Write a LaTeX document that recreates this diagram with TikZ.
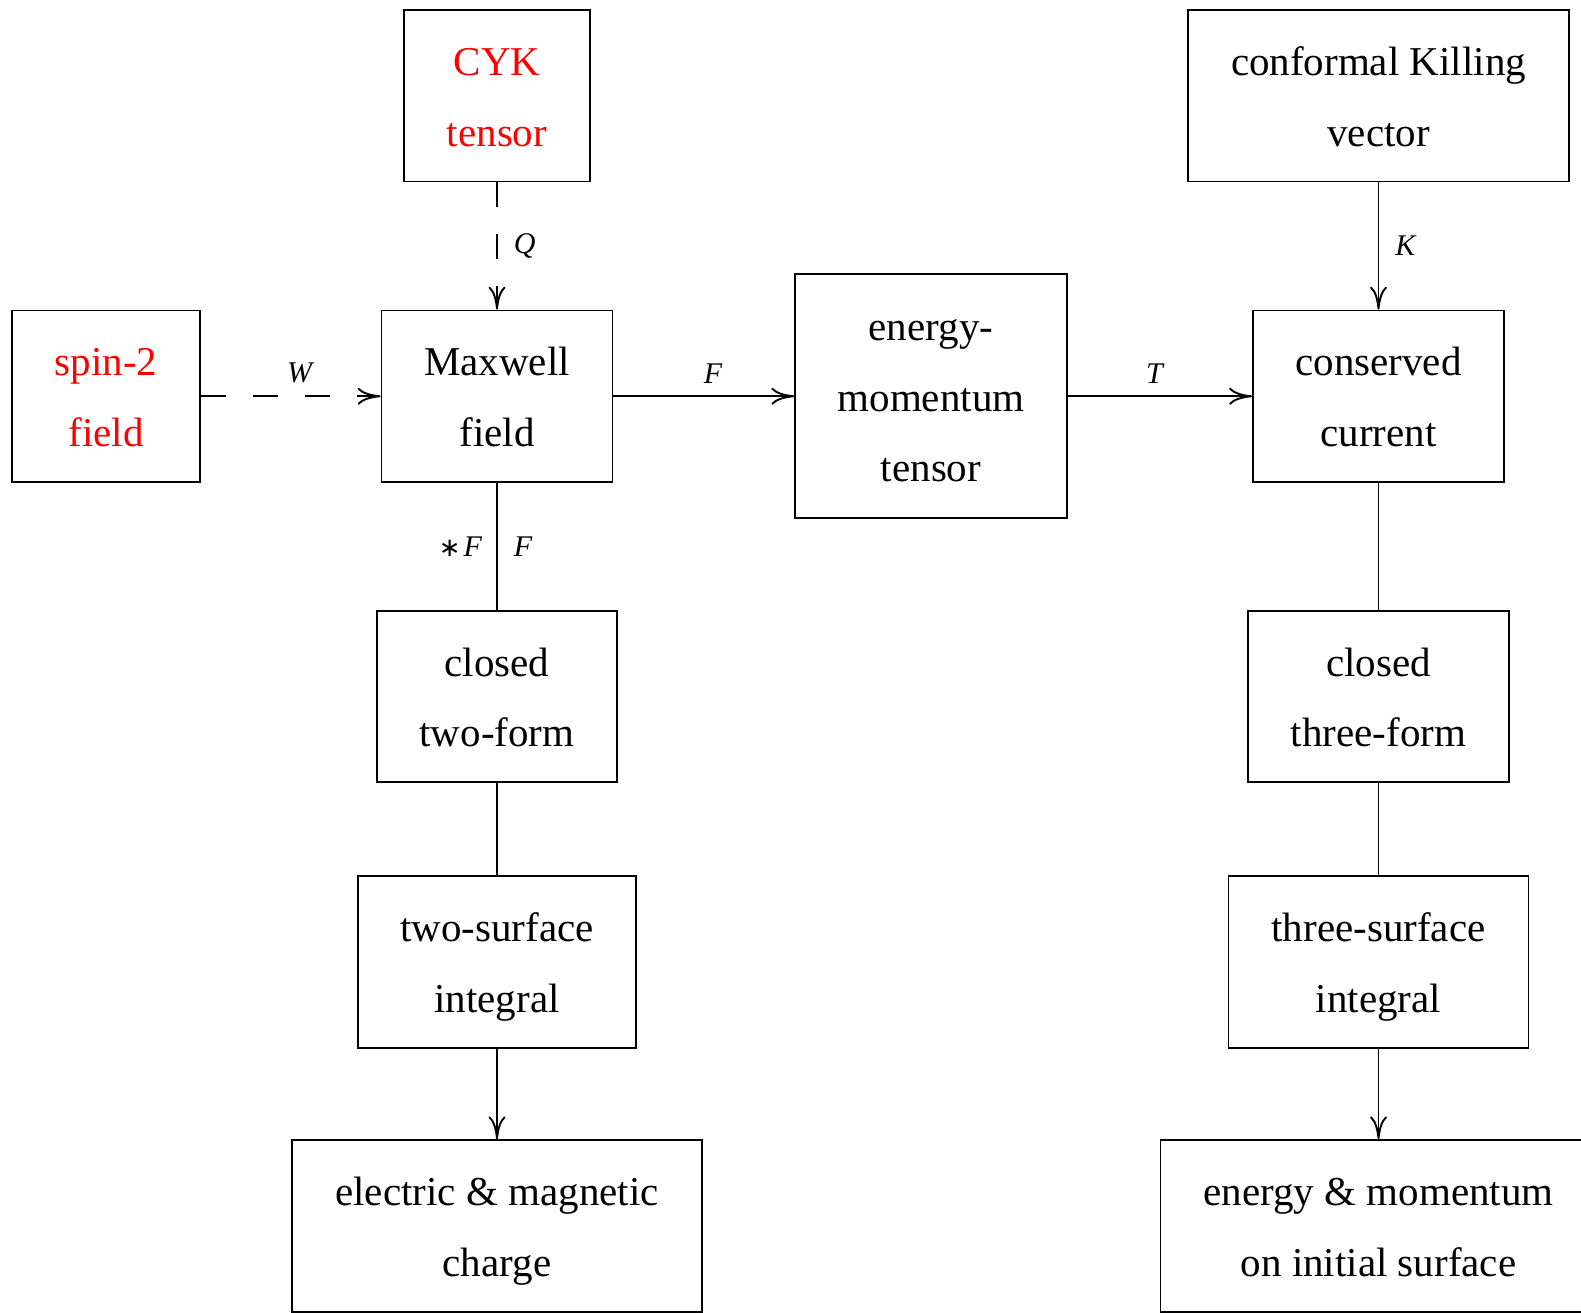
\documentclass[tikz,border=0pt]{standalone}
\usepackage{fontspec}
\setmainfont{Liberation Serif}
\newfontfamily\symfnt{DejaVu Sans}
\usetikzlibrary{arrows.meta}
\newcommand{\ls}{\rule[-10pt]{0pt}{50pt}}
\tikzset{
  box/.style={draw, line width=1.9pt, inner sep=0pt, minimum height=171.5pt, align=center,
    font=\fontsize{41}{70.6}\selectfont},
  lbl/.style={font=\fontsize{30}{36}\selectfont\itshape, inner sep=0pt},
  conn/.style={line width=1.9pt},
  arr/.style={conn, -{To[length=23pt,width=17pt]}},
  dsh/.style={dash pattern=on 25pt off 27pt},
}
\begin{document}
\begin{tikzpicture}[x=1pt,y=-1pt]
\useasboundingbox (0,0) rectangle (1581,1313);
\clip (0,0) rectangle (1581,1313);
% column 1
\node[box, minimum width=186pt, text=red] (cyk) at (497,95.75) {\ls CYK\\\ls tensor};
\node[box, minimum width=231pt] (maxwell) at (497,396.25) {\ls Maxwell\\\ls field};
\node[box, minimum width=240pt] (closed2) at (497,696.5) {\ls closed\\\ls two-form};
\node[box, minimum width=278pt] (surf2) at (497,962) {\ls two-surface\\\ls integral};
\node[box, minimum width=410pt] (charge) at (497,1226) {\ls electric \& magnetic\\\ls charge};
% left
\node[box, minimum width=188pt, text=red] (spin) at (106,396.25) {\ls spin-2\\\ls field};
% middle
\node[box, minimum width=271.5pt, minimum height=244pt] (emt) at (931,396.25) {\ls energy-\\\ls momentum\\\ls tensor};
% column 3
\node[box, minimum width=381pt] (ckv) at (1378.5,95.75) {\ls conformal Killing\\\ls vector};
\node[box, minimum width=251pt] (current) at (1378.5,396.25) {\ls conserved\\\ls current};
\node[box, minimum width=261pt] (closed3) at (1378.5,696.5) {\ls closed\\\ls three-form};
\node[box, minimum width=300pt] (surf3) at (1378.5,962) {\ls three-surface\\\ls integral};
\node[box, minimum width=436pt] (energy) at (1378.5,1226) {\ls energy \& momentum\\\ls on initial surface};
% connectors
\draw[arr, dsh] (cyk) -- node[lbl, right=16pt] {Q} (maxwell);
\draw[arr, dsh] (spin) -- node[lbl, above=12pt, pos=0.55] {W} (maxwell);
\draw[arr] (maxwell) -- node[lbl, above=12pt, pos=0.55] {F} (emt);
\draw[arr] (emt) -- node[lbl, above=12pt, pos=0.47] {T} (current);
\draw[arr] (ckv) -- node[lbl, right=16pt] {K} (current);
\draw[conn] (maxwell) -- node[lbl, left=14pt] {{\symfnt\upshape\fontsize{26}{30}\selectfont ∗}\kern3pt F} node[lbl, right=16pt] {F} (closed2);
\draw[conn] (closed2) -- (surf2);
\draw[arr] (surf2) -- (charge);
\draw[conn] (current) -- (closed3);
\draw[conn] (closed3) -- (surf3);
\draw[arr] (surf3) -- (energy);
\end{tikzpicture}
\end{document}
